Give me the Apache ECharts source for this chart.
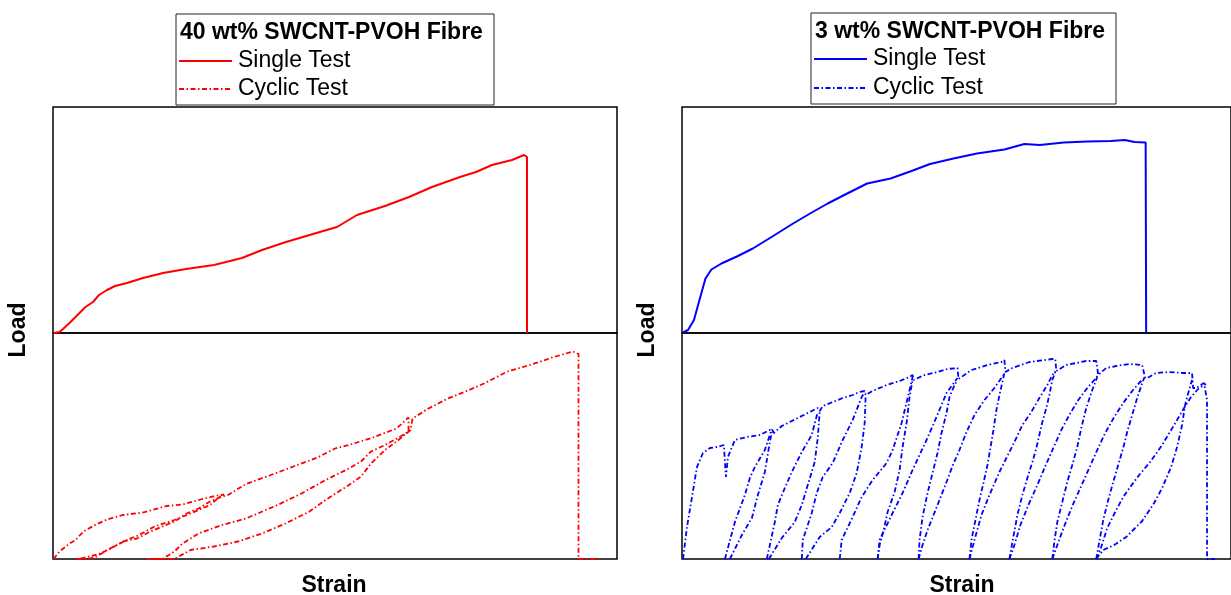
<!DOCTYPE html>
<html>
<head>
<meta charset="utf-8">
<script src="https://cdn.jsdelivr.net/npm/echarts@6/dist/echarts.min.js"></script>
<style>
html,body{margin:0;padding:0;background:#fff;}
#chart{width:1231px;height:595px;}
</style>
</head>
<body>
<div id="chart"></div>
<script>
// ---------- DATA (strain, load) in arbitrary units ----------
const panelTitles = ['40 wt% SWCNT-PVOH Fibre', '3 wt% SWCNT-PVOH Fibre'];
const legendNames = ['Single Test', 'Cyclic Test'];
const axisNames = {x: 'Strain', y: 'Load'};

// 40 wt% - single test
const redSingle = [[0.1,0],[1.3,0.2],[2.0,0.8],[3.3,2.0],[4.9,3.6],[6.5,5.2],[8.0,6.2],[9.2,7.6],[10.8,8.6],[12.4,9.4],[14.8,10.0],[18.0,11.0],[22.0,12.0],[26.6,12.8],[32.2,13.6],[37.8,15.0],[41.8,16.6],[46.6,18.2],[52.0,19.8],[56.8,21.2],[60.8,23.6],[66.4,25.4],[71.2,27.2],[75.8,29.2],[81.4,31.2],[84.6,32.2],[87.8,33.6],[91.8,34.6],[94.2,35.6],[94.8,35.2],[94.8,0]];

// 40 wt% - cyclic test (one continuous record)
const redCyclic = [
 [0.1,0],[1.3,1.5],[3.3,3.1],[4.5,3.8],[6.1,5.5],[8.4,6.8],[10.8,7.9],[14.0,8.8],[18.0,9.3],[22.7,10.6],[25.9,10.9],[29.1,11.8],[32.3,12.6],[34.2,12.9],
 [33.4,12.5],[31.4,10.8],[27.5,9.1],[24.3,7.8],[20.3,6.5],[17.2,4.8],[14.8,3.8],[10.8,1.8],[8.8,0.5],[6.9,0],[4.5,0],
 [5.3,0],[9.2,1.0],[11.6,2.1],[14.0,3.5],[16.8,4.1],[19.5,5.5],[21.9,6.5],[24.3,7.5],[26.7,9.1],[29.1,10.1],[31.4,11.5],[33.8,12.5],[35.0,12.8],
 [38.6,15.0],[43.3,16.7],[48.1,18.5],[52.9,20.3],[56.4,22.1],[59.2,22.8],[64.0,24.3],[68.7,26.1],[71.1,28.3],
 [71.1,25.5],[69.5,24.5],[66.4,22.8],[63.6,21.5],[61.6,19.5],[59.2,18.1],[54.5,15.8],[49.7,13.1],[44.9,10.8],[38.6,8.1],[33.8,6.8],[29.1,5.1],[25.9,3.1],[24.3,1.5],[21.9,0],[18.8,0],
 [24.3,0],[27.5,1.8],[32.2,2.5],[37.0,3.5],[41.8,5.1],[46.5,7.1],[51.3,9.5],[54.5,11.8],[59.2,14.8],[61.6,16.5],[63.6,19.1],[66.4,21.8],[68.7,23.5],[70.7,25.1],[71.5,25.8],[71.9,28.1],
 [72.3,28.5],[75.1,30.1],[79.0,32.1],[83.0,33.7],[86.2,35.1],[90.9,37.5],[95.7,38.9],[100.5,40.5],[104.0,41.5],[105.1,41.0],[105.1,0],[109.6,0]
];

// 3 wt% - single test
const blueSingle = [[0.2,0.1],[1.2,0.6],[2.4,2.6],[3.5,6.6],[4.7,10.9],[5.9,12.7],[7.9,13.9],[11.0,15.3],[14.2,16.9],[18.1,19.3],[22.1,21.8],[26.0,24.1],[29.2,25.9],[33.1,27.9],[37.1,29.9],[41.8,30.9],[45.7,32.3],[49.7,33.8],[54.4,34.9],[59.1,35.9],[64.6,36.7],[68.6,37.8],[71.7,37.6],[76.5,38.1],[81.2,38.3],[85.9,38.4],[88.7,38.6],[90.7,38.2],[92.9,38.1],[93.0,0.1]];

// 3 wt% - cyclic test: upper envelope and the unload/reload branches
const blueCycEnvelope = [[0.2,0],[1.0,6.4],[2.0,12.4],[3.0,18.4],[4.2,21.2],[5.6,22.2],[7.0,22.4],[8.4,22.8],[8.6,19.4],[8.8,16.4],[9.2,20.4],[10.6,23.8],[13.0,24.4],[15.6,24.8],[17.2,25.6],[18.0,26.0],[18.4,25.2],[20.0,26.6],[23.2,28.2],[26.0,29.6],[27.2,30.2],[27.6,29.6],[28.2,30.6],[30.2,31.4],[32.2,32.2],[34.2,32.8],[35.6,33.4],[36.6,33.6],[36.8,32.8],[38.2,33.6],[41.0,34.8],[43.6,35.6],[45.6,36.4],[46.2,36.8],[46.4,35.8],[48.6,36.8],[51.2,37.4],[53.2,38.0],[55.2,38.2],[55.4,36.0],[56.0,36.4],[58.0,37.8],[61.2,38.8],[64.0,39.4],[64.6,39.8],[64.8,37.4],[66.2,38.2],[69.6,39.4],[74.2,40.0],[74.8,40.0],[75.0,37.6],[77.0,38.8],[81.0,39.6],[83.0,39.6],[83.4,36.8],[85.0,38.2],[87.0,38.6],[89.6,39.0],[92.2,38.8],[92.6,38.8],[92.8,36.2],[93.6,36.4],[95.0,37.2],[97.6,37.4],[100.2,37.2],[102.2,37.2],[102.4,34.2],[103.0,34.2],[104.6,35.2],[105.0,35.0],[105.2,31.8],[105.2,0],[106.8,0]];

const blueCycBranches = [
 [[8.6,0],[10.6,7.4],[12.6,12.8],[13.6,16.2],[14.6,18.4],[16.6,21.8],[17.6,24.8],[18.0,26.0]],
 [[9.6,0],[12.0,4.8],[14.0,8.2],[15.2,12.8],[16.6,17.4],[17.6,23.4],[18.0,25.4]],
 [[17.0,0],[18.6,7.4],[19.2,10.8],[20.6,14.2],[22.0,17.4],[24.0,21.4],[26.0,24.8],[27.2,29.4]],
 [[17.4,0],[20.0,4.2],[22.6,7.4],[24.0,10.8],[25.2,14.8],[26.6,19.4],[27.2,24.2],[27.6,29.6]],
 [[24.0,0],[24.2,3.8],[26.0,9.2],[27.0,13.2],[28.2,16.4],[30.2,19.2],[32.2,23.8],[34.2,27.8],[36.0,32.4],[36.6,33.4]],
 [[24.8,0],[27.6,4.4],[30.0,6.4],[31.6,9.2],[33.6,13.2],[35.0,17.2],[36.0,22.4],[36.6,27.2],[36.8,32.8]],
 [[31.6,0],[32.0,3.8],[34.2,8.4],[36.0,12.4],[38.2,15.8],[41.0,19.2],[42.2,21.8],[44.0,27.2],[45.6,33.8],[46.2,36.4]],
 [[39.2,0],[39.6,2.8],[40.4,5.8],[41.2,9.4],[42.6,13.4],[43.6,17.8],[44.2,22.4],[45.0,27.2],[45.6,32.4],[46.2,35.8]],
 [[39.2,0],[39.6,3.8],[42.2,9.2],[44.2,13.2],[46.2,17.8],[49.0,23.8],[51.0,28.4],[53.0,33.2],[54.6,35.4],[55.2,36.2]],
 [[47.4,0],[47.6,3.8],[48.2,8.4],[49.2,13.2],[50.2,17.2],[51.2,21.2],[52.0,25.2],[53.0,29.2],[53.6,32.4],[54.6,34.8],[55.2,35.8]],
 [[47.4,0],[48.2,2.8],[49.2,5.8],[50.4,8.8],[51.6,11.8],[53.0,15.4],[54.2,18.6],[55.6,21.8],[57.0,25.4],[58.6,28.8],[60.6,31.8],[62.6,34.2],[64.4,36.8]],
 [[57.6,0],[58.0,3.8],[58.8,7.8],[59.6,11.8],[60.4,15.2],[61.2,18.8],[61.8,22.2],[62.4,25.8],[63.0,29.8],[63.6,32.8],[64.2,35.4],[64.6,37.2]],
 [[57.6,0],[58.6,3.8],[60.0,8.8],[61.6,12.8],[63.6,17.4],[65.0,20.2],[66.6,23.4],[68.2,26.8],[70.0,29.4],[71.6,32.2],[73.2,34.8],[74.2,36.8],[74.8,37.6]],
 [[65.6,0],[66.2,3.4],[67.2,8.8],[68.2,12.8],[69.2,16.2],[70.2,19.4],[71.0,22.2],[71.6,24.8],[72.2,27.4],[73.0,30.2],[73.6,32.8],[74.2,35.8],[74.8,37.4]],
 [[65.6,0],[66.6,2.8],[67.8,6.8],[69.4,10.8],[71.2,14.8],[72.8,18.6],[74.4,22.2],[76.0,25.8],[77.6,28.8],[79.4,31.8],[81.2,34.2],[82.6,35.8],[83.2,36.6]],
 [[74.2,0],[74.6,3.4],[75.2,7.4],[76.2,11.4],[77.2,15.4],[78.2,18.8],[79.2,22.4],[80.0,26.2],[81.0,30.2],[82.2,33.8],[83.2,36.4]],
 [[74.2,0],[75.2,2.8],[76.6,6.6],[78.2,10.6],[80.0,14.6],[81.6,18.2],[83.2,21.8],[84.8,25.2],[86.6,28.4],[88.4,31.2],[90.2,33.6],[91.6,35.2],[92.6,36.2]],
 [[83.0,0],[83.6,3.4],[84.4,7.8],[85.4,11.8],[86.4,15.4],[87.4,18.8],[88.4,22.2],[89.2,25.4],[90.2,28.8],[91.2,32.2],[92.0,34.6],[92.6,36.2]],
 [[83.0,0],[84.4,1.8],[86.6,2.8],[89.0,4.4],[92.2,7.6],[94.6,11.2],[96.2,14.2],[98.0,18.4],[99.2,22.4],[100.2,26.8],[100.8,30.8],[101.6,33.8],[102.2,35.8]],
 [[83.0,0],[84.0,2.4],[85.2,6.2],[86.8,9.4],[88.4,12.4],[89.8,14.4],[91.6,16.8],[93.8,19.4],[96.2,22.8],[98.6,26.8],[100.6,30.2],[102.0,32.4],[103.4,34.0],[104.6,34.8],[105.0,35.0]]
];

// ---------- CHART ----------
const RED = '#ff0000', BLUE = '#0000ff';
const DASHDOT = [5, 2.5, 1.5, 2.5];
const FONT = '"Liberation Sans", Arial, Helvetica, sans-serif';

const chart = echarts.init(document.getElementById('chart'), null, {renderer: 'canvas'});

const gridBase = {show: true, borderColor: '#000', borderWidth: 1.5, backgroundColor: 'transparent', containLabel: false};
const grids = [
  Object.assign({left: 53, top: 107, width: 564, height: 226}, gridBase),
  Object.assign({left: 53, top: 333, width: 564, height: 226}, gridBase),
  Object.assign({left: 682, top: 107, width: 550, height: 226}, gridBase),
  Object.assign({left: 682, top: 333, width: 550, height: 226}, gridBase)
];
const xMax = [112.8, 112.8, 110, 110];
const xAxes = grids.map((g, i) => ({type: 'value', gridIndex: i, min: 0, max: xMax[i], show: false}));
const yAxes = grids.map((g, i) => ({type: 'value', gridIndex: i, min: 0, max: 45.2, show: false}));

function lineSeries(data, idx, color, dashed) {
  return {
    type: 'line', xAxisIndex: idx, yAxisIndex: idx, data: data,
    symbol: 'none', showSymbol: false, clip: false, silent: true,
    lineStyle: {color: color, width: dashed ? 1.8 : 2, type: dashed ? DASHDOT : 'solid'},
    animation: false
  };
}

const series = [
  lineSeries(redSingle, 0, RED, false),
  lineSeries(redCyclic, 1, RED, true),
  lineSeries(blueSingle, 2, BLUE, false),
  lineSeries(blueCycEnvelope, 3, BLUE, true)
];
blueCycBranches.forEach(b => series.push(lineSeries(b, 3, BLUE, true)));

function legendBox(x, y, w, h, title, color, rows) {
  const els = [
    {type: 'rect', shape: {x: x, y: y, width: w, height: h}, style: {fill: '#fff', stroke: '#222', lineWidth: 1}, z: 100},
    {type: 'text', x: x + 4, y: rows[0], z: 101,
     style: {text: title, font: 'bold 23px ' + FONT, fill: '#000', align: 'left', verticalAlign: 'middle'}}
  ];
  [legendNames[0], legendNames[1]].forEach((name, k) => {
    const ly = rows[k + 1];
    els.push({type: 'line', z: 101, shape: {x1: x + 3, y1: ly, x2: x + 56, y2: ly},
      style: {stroke: color, lineWidth: 2, lineDash: k === 1 ? DASHDOT : null}});
    els.push({type: 'text', x: x + 62, y: ly, z: 101,
      style: {text: name, font: '23px ' + FONT, fill: '#000', align: 'left', verticalAlign: 'middle'}});
  });
  return els;
}

const axisLabelFont = 'bold 23px ' + FONT;
const graphic = []
  .concat(legendBox(176, 14, 318, 91, panelTitles[0], RED, [33, 61, 89]))
  .concat(legendBox(811, 13, 305, 91, panelTitles[1], BLUE, [32, 59, 88]))
  .concat([
    {type: 'text', x: 19, y: 330, rotation: Math.PI / 2, z: 101,
     style: {text: axisNames.y, font: axisLabelFont, fill: '#000', align: 'center', verticalAlign: 'middle'}},
    {type: 'text', x: 648, y: 330, rotation: Math.PI / 2, z: 101,
     style: {text: axisNames.y, font: axisLabelFont, fill: '#000', align: 'center', verticalAlign: 'middle'}},
    {type: 'text', x: 334, y: 586, z: 101,
     style: {text: axisNames.x, font: axisLabelFont, fill: '#000', align: 'center', verticalAlign: 'middle'}},
    {type: 'text', x: 962, y: 586, z: 101,
     style: {text: axisNames.x, font: axisLabelFont, fill: '#000', align: 'center', verticalAlign: 'middle'}}
  ]);

chart.setOption({
  animation: false,
  backgroundColor: '#ffffff',
  grid: grids,
  xAxis: xAxes,
  yAxis: yAxes,
  series: series,
  graphic: graphic
});
</script>
</body>
</html>
